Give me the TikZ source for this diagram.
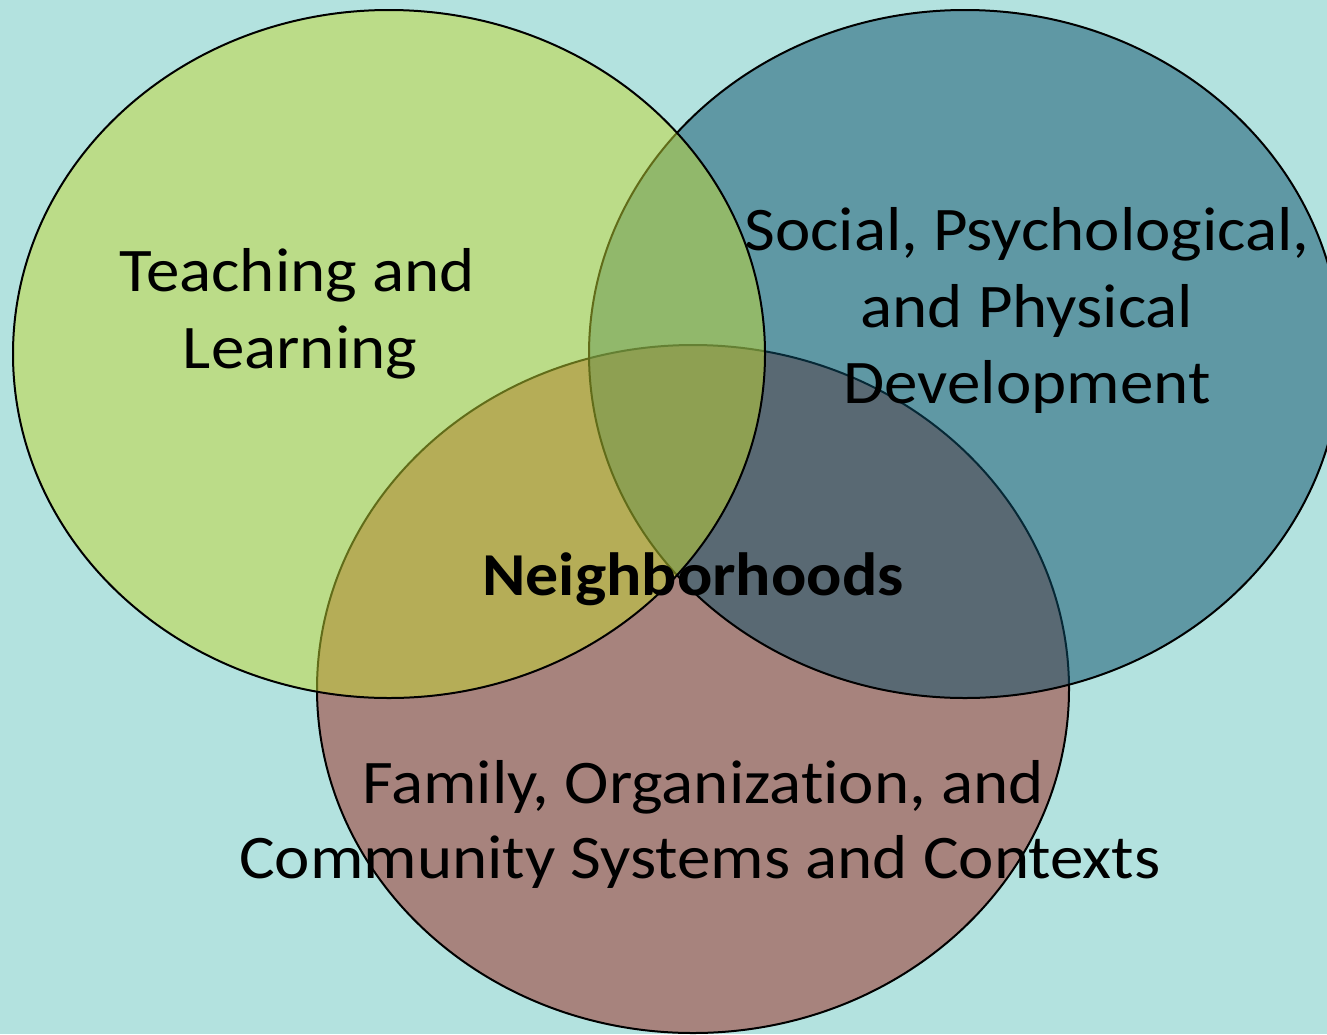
\documentclass[tikz,border=0pt]{standalone}
\usepackage{fontspec}
\setmainfont{Carlito}[FakeStretch=1.08,Ligatures=NoCommon]
\usetikzlibrary{shapes.geometric}
\definecolor{bgc}{RGB}{179,226,223}
\definecolor{greenc}{RGB}{195,216,51}
\definecolor{bluec}{RGB}{13,80,107}
\definecolor{redc}{RGB}{157,38,29}
\tikzset{
  venn/.style={ellipse, draw=black, line width=2pt, fill opacity=0.5,
    minimum width=752pt, minimum height=688pt, inner sep=0pt},
  lab/.style={anchor=base, inner sep=0pt, font=\fontsize{62}{77}\selectfont},
  boldlab/.style={anchor=base, inner sep=0pt, font=\fontsize{61}{77}\selectfont\bfseries},
}
\begin{document}
\begin{tikzpicture}[x=1pt,y=-1pt]
\useasboundingbox (0,0) rectangle (1327,1034);
\clip (0,0) rectangle (1327,1034);
\fill[bgc] (0,0) rectangle (1327,1034);
\node[venn, fill=redc] (fam) at (693,689) {};
\node[venn, fill=bluec] (soc) at (965,354) {};
\node[venn, fill=greenc] (tea) at (389,354) {};
\node[lab] (t1) at (297,291) {Teaching and};
\node[lab] (t2) at (300,368) {Learning};
\node[lab] (s1) at (1027,250) {Social, Psychological,};
\node[lab] (s2) at (1027,327) {and Physical};
\node[lab] (s3) at (1027,403) {Development};
\node[boldlab] (nb) at (693,595) {Neighborhoods};
\node[lab] (f1) at (703,803) {Family, Organization, and};
\node[lab] (f2) at (700,878) {Community Systems and Contexts};
\end{tikzpicture}
\end{document}
